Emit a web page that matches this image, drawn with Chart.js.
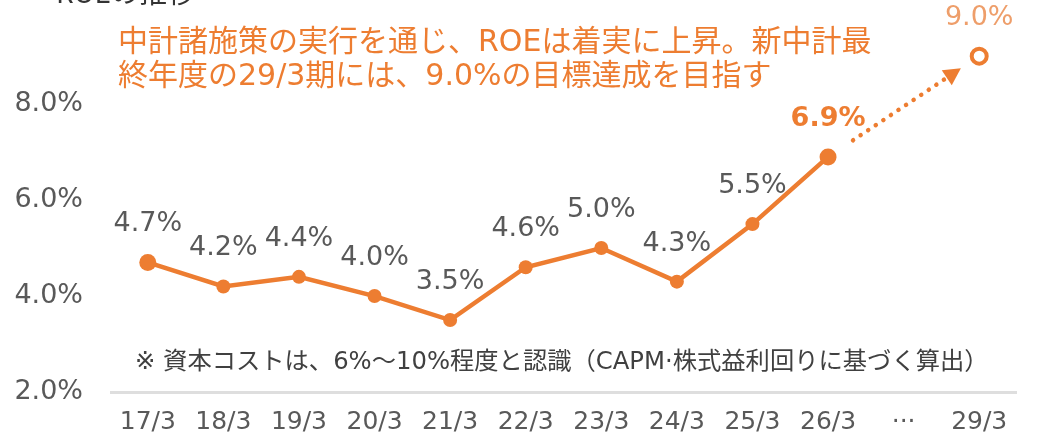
<!DOCTYPE html>
<html>
<head>
<meta charset="utf-8">
<script src="https://cdn.jsdelivr.net/npm/chart.js@4.4.1/dist/chart.umd.min.js"></script>
<style>
  html, body { margin: 0; padding: 0; background: #ffffff; }
  #wrap { width: 1039px; height: 444px; position: relative; }
</style>
</head>
<body>
<div id="wrap"><canvas id="c" width="1039" height="444"></canvas></div>
<script>
// ---- data ----
const categories = ['17/3', '18/3', '19/3', '20/3', '21/3', '22/3', '23/3', '24/3', '25/3', '26/3', '···', '29/3'];
const roeActual = [4.7, 4.2, 4.4, 4.0, 3.5, 4.6, 5.0, 4.3, 5.5, 6.9, null, null];
const roeTarget = [null, null, null, null, null, null, null, null, null, null, null, 9.0];
const yTickValues = [2, 4, 6, 8];
const titleText = 'ROEの推移';
const noteLines = ['中計諸施策の実行を通じ、ROEは着実に上昇。新中計最', '終年度の29/3期には、9.0%の目標達成を目指す'];
const footnote = '※ 資本コストは、6%～10%程度と認識（CAPM·株式益利回りに基づく算出）';

const ORANGE = '#ED7D31';
const GRAY = '#595959';
const LATIN = "'DejaVu Sans', Verdana, sans-serif";
const MIXED = "'DejaVu Sans', 'Noto Sans CJK JP', sans-serif";
const CJK = "'Noto Sans CJK JP', 'DejaVu Sans', sans-serif";

const labelPlugin = {
  id: 'valueLabels',
  afterDatasetsDraw(chart) {
    const ctx = chart.ctx;
    ctx.save();
    ctx.textAlign = 'center';
    ctx.textBaseline = 'middle';
    const m0 = chart.getDatasetMeta(0);
    roeActual.forEach((v, i) => {
      if (v === null) return;
      const p = m0.data[i];
      const last = i === 9;
      ctx.font = (last ? 'bold 27px ' : '27px ') + LATIN;
      ctx.fillStyle = last ? ORANGE : GRAY;
      ctx.fillText(v.toFixed(1) + '%', p.x, p.y - 38);
    });
    const m1 = chart.getDatasetMeta(1);
    roeTarget.forEach((v, i) => {
      if (v === null) return;
      const p = m1.data[i];
      ctx.font = '27px ' + LATIN;
      ctx.fillStyle = '#EE9E6A';
      ctx.fillText(v.toFixed(1) + '%', p.x, p.y - 38);
    });

    // dotted arrow from last actual to target
    const a = m0.data[9], b = m1.data[11];
    const dx = b.x - a.x, dy = b.y - a.y;
    const len = Math.hypot(dx, dy);
    const ux = dx / len, uy = dy / len;
    const sx = a.x + ux * 30, sy = a.y + uy * 30;
    const tipX = b.x - ux * 22, tipY = b.y - uy * 22;
    const headLen = 17, headW = 9;
    const bx = tipX - ux * headLen, by = tipY - uy * headLen;
    ctx.strokeStyle = ORANGE;
    ctx.lineWidth = 4.5;
    ctx.lineCap = 'round';
    ctx.setLineDash([0.1, 9]);
    ctx.beginPath();
    ctx.moveTo(sx, sy);
    ctx.lineTo(bx, by);
    ctx.stroke();
    ctx.setLineDash([]);
    ctx.fillStyle = ORANGE;
    ctx.beginPath();
    ctx.moveTo(tipX, tipY);
    ctx.lineTo(bx - uy * headW, by + ux * headW);
    ctx.lineTo(bx + uy * headW, by - ux * headW);
    ctx.closePath();
    ctx.fill();

    // texts
    ctx.textAlign = 'left';
    ctx.textBaseline = 'alphabetic';
    ctx.fillStyle = '#333333';
    ctx.font = '28px ' + CJK;
    ctx.fillText(titleText, 56, 3);

    ctx.fillStyle = ORANGE;
    ctx.font = '30px ' + MIXED;
    ctx.textBaseline = 'middle';
    ctx.fillText(noteLines[0], 118, 43);
    ctx.fillText(noteLines[1], 118, 77);

    ctx.fillStyle = '#404040';
    ctx.font = '24.3px ' + MIXED;
    ctx.fillText(footnote, 135, 363);
    ctx.restore();
  }
};

new Chart(document.getElementById('c'), {
  type: 'line',
  data: {
    labels: categories,
    datasets: [
      {
        data: roeActual,
        borderColor: ORANGE,
        backgroundColor: ORANGE,
        borderWidth: 4.5,
        pointRadius: [8.5, 7, 7, 7, 7, 7, 7, 7, 7, 8.5, 0, 0],
        pointBackgroundColor: ORANGE,
        pointBorderWidth: 0,
        spanGaps: false,
        tension: 0
      },
      {
        data: roeTarget,
        borderColor: ORANGE,
        backgroundColor: '#ffffff',
        showLine: false,
        pointRadius: 7.5,
        pointBorderWidth: 4,
        pointBackgroundColor: '#ffffff',
        pointBorderColor: ORANGE
      }
    ]
  },
  options: {
    responsive: false,
    animation: false,
    devicePixelRatio: 1,
    layout: { autoPadding: false, padding: { top: 8, right: 22, left: 0, bottom: 0 } },
    plugins: { legend: { display: false }, tooltip: { enabled: false } },
    scales: {
      x: {
        offset: true,
        grid: { display: false, drawTicks: false },
        border: { display: false },
        ticks: { color: GRAY, font: { family: LATIN, size: 25 }, padding: 15, maxRotation: 0, autoSkip: false },
        afterFit(scale) { scale.height = 52; }
      },
      y: {
        min: 2,
        max: 9.27,
        afterBuildTicks(scale) { scale.ticks = yTickValues.map(v => ({ value: v })); },
        grid: {
          drawTicks: false,
          lineWidth: 3,
          color: (c) => (c.tick && c.tick.value === 2 ? '#dedede' : 'rgba(0,0,0,0)')
        },
        border: { display: false },
        ticks: { color: GRAY, font: { family: LATIN, size: 27 }, padding: 27, callback: (v) => Number(v).toFixed(1) + '%' },
        afterFit(scale) { scale.width = 110; }
      }
    }
  },
  plugins: [labelPlugin]
});
</script>
</body>
</html>
